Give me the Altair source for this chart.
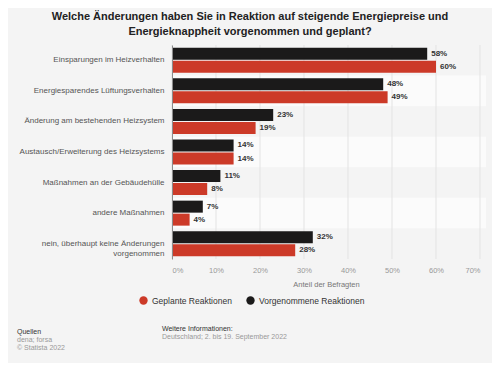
import altair as alt
import pandas as pd

categories = [
    "Einsparungen im Heizverhalten",
    "Energiesparendes Lüftungsverhalten",
    "Änderung am bestehenden Heizsystem",
    "Austausch/Erweiterung des Heizsystems",
    "Maßnahmen an der Gebäudehülle",
    "andere Maßnahmen",
    "nein, überhaupt keine Änderungen vorgenommen",
]
series = ["Geplante Reaktionen", "Vorgenommene Reaktionen"]
geplant = [60, 49, 19, 14, 8, 4, 28]
vorgenommen = [58, 48, 23, 14, 11, 7, 32]
x_ticks = [0, 10, 20, 30, 40, 50, 60, 70]

RED = "#cc3a28"
BLACK = "#1b1a1a"
BG = "#f4f4f4"

rows = []
for c, g, v in zip(categories, geplant, vorgenommen):
    rows.append({"cat": c, "series": series[0], "value": g})
    rows.append({"cat": c, "series": series[1], "value": v})
df = pd.DataFrame(rows)

stripes = pd.DataFrame({
    "cat": categories,
    "shade": [BG if i % 2 == 0 else "#fbfbfb" for i in range(len(categories))],
})
grid = pd.DataFrame({"v": x_ticks})

W, H = 308, 214

label_expr = ("datum.value == 'nein, überhaupt keine Änderungen vorgenommen' ? "
              "['nein, überhaupt keine Änderungen', 'vorgenommen'] : datum.value")

y_enc = alt.Y("cat:N", sort=categories,
              scale=alt.Scale(paddingInner=0, paddingOuter=0),
              axis=alt.Axis(title=None, labelExpr=label_expr, labelColor="#555555",
                            labelFontSize=8, labelFont="Liberation Sans",
                            labelPadding=8, ticks=False, domain=True,
                            domainColor="#8c8c8c", domainWidth=1,
                            labelLineHeight=10, labelLimit=200))
x_scale = alt.Scale(domain=[0, 70], nice=False)

stripe_layer = alt.Chart(stripes).mark_rect().encode(
    y=y_enc,
    x=alt.value(0), x2=alt.value(W + 6),
    color=alt.Color("shade:N", scale=None),
)

grid_layer = alt.Chart(grid).mark_rule(color="#e3e3e3", strokeWidth=1).encode(
    x=alt.X("v:Q", scale=x_scale),
    y=alt.value(0), y2=alt.value(H),
)

yoff = alt.YOffset("series:N", sort=[series[1], series[0]],
                   scale=alt.Scale(paddingInner=0.077, paddingOuter=0.214))

bars = alt.Chart(df).mark_bar(cornerRadius=0).encode(
    y=alt.Y("cat:N", sort=categories),
    yOffset=yoff,
    x=alt.X("value:Q", scale=x_scale,
            axis=alt.Axis(values=x_ticks, labelExpr="datum.value + '%'",
                          title="Anteil der Befragten", titleFontSize=7.5,
                          titleFontWeight="normal", titleColor="#777777",
                          titleFont="Liberation Sans", titlePadding=7,
                          labelColor="#999999", labelFontSize=7.5,
                          labelFont="Liberation Sans", labelPadding=7,
                          ticks=False, domain=False, grid=False)),
    color=alt.Color("series:N", scale=alt.Scale(domain=series, range=[RED, BLACK]),
                    legend=alt.Legend(title=None, orient="none", direction="horizontal",
                                      legendX=-33, legendY=251, symbolType="circle",
                                      symbolSize=70, labelFontSize=8.5,
                                      labelColor="#333333", labelFont="Liberation Sans",
                                      columnPadding=14, symbolStrokeWidth=0)),
)

labels = alt.Chart(df).mark_text(align="left", baseline="middle", dx=4,
                                 fontSize=8, fontWeight="bold", color="#333333",
                                 font="Liberation Sans").encode(
    y=alt.Y("cat:N", sort=categories),
    yOffset=yoff,
    x=alt.X("value:Q", scale=x_scale),
    text=alt.Text("label:N"),
).transform_calculate(label="datum.value + '%'")

def note(txt, x, y, color, size=7, weight="normal"):
    return alt.Chart(pd.DataFrame({"t": [txt]})).mark_text(
        align="left", baseline="middle", fontSize=size, color=color,
        fontWeight=weight, font="Liberation Sans").encode(
        text="t:N", x=alt.value(x), y=alt.value(y))

notes = [
    note("Quellen", -155, 287, "#333333"),
    note("dena; forsa", -155, 295, "#999999"),
    note("© Statista 2022", -155, 303, "#999999"),
    note("Weitere Informationen:", -10, 284, "#333333"),
    note("Deutschland; 2. bis 19. September 2022", -10, 292, "#999999"),
]

chart = alt.layer(stripe_layer, grid_layer, bars, labels, *notes).resolve_scale(
    color="independent"
).properties(
    width=W, height=H,
    autosize=alt.AutoSizeParams(type="none"),
    padding={"left": 164, "top": 37, "right": 12, "bottom": 104},
    background=BG,
    title=alt.TitleParams(
        ["Welche Änderungen haben Sie in Reaktion auf steigende Energiepreise und",
         "Energieknappheit vorgenommen und geplant?"],
        fontSize=11, font="Liberation Sans", fontWeight="bold", color="#222222",
        anchor="middle", frame="group", dx=-76, offset=8,
        lineHeight=15),
).configure_view(stroke=None)

chart.save("out.html", embed_options={"renderer": "svg", "actions": False})
